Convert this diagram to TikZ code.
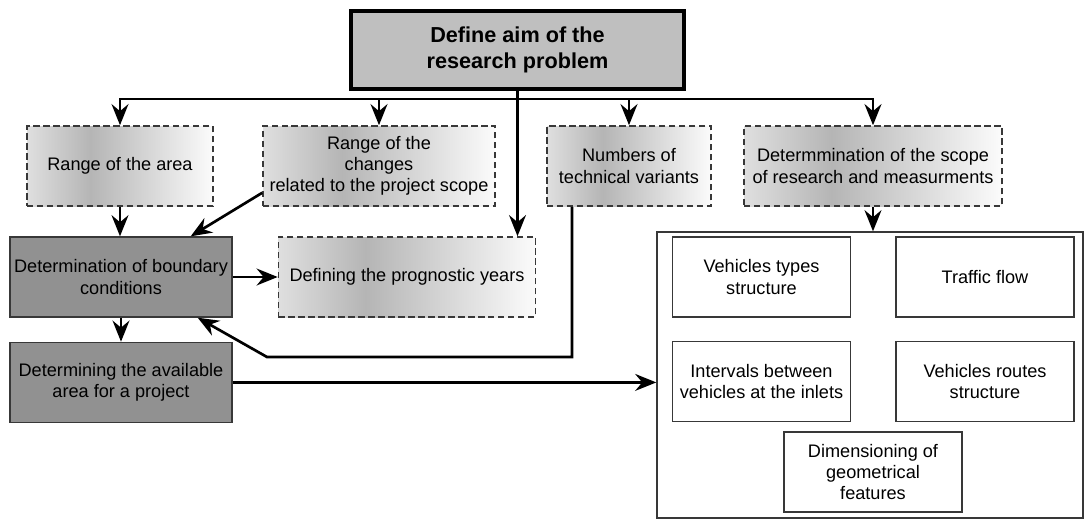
\documentclass[tikz,border=0pt]{standalone}
\usepackage{fontspec}
\setmainfont{Liberation Sans}
\usetikzlibrary{arrows.meta,positioning,calc}
\definecolor{darkfill}{gray}{0.57}
\definecolor{edgegray}{gray}{0.22}
\newcommand{\pxu}{0.025cm}
\pgfdeclarehorizontalshading{boxshade}{100bp}{color(0bp)=(gray!25); color(25bp)=(gray!25); color(42bp)=(gray!58); color(75bp)=(gray!3); color(100bp)=(gray!3)}
\tikzset{
  basebox/.style={rectangle,inner sep=0pt,align=center,font=\fontsize{12.9}{15}\selectfont},
  aimbox/.style={basebox,draw=black,line width=2.8pt,fill=gray!50,font=\bfseries\fontsize{15.4}{18.5}\selectfont,minimum width=333*\pxu,minimum height=78*\pxu},
  dashbox/.style={basebox,draw=edgegray,line width=1.1pt,dash pattern=on 4.5pt off 2.6pt,shade,shading=boxshade,minimum height=80*\pxu},
  darkbox/.style={basebox,draw=edgegray,line width=1pt,fill=darkfill,minimum width=222*\pxu,minimum height=80*\pxu},
  itembox/.style={basebox,draw=edgegray,line width=1.1pt,fill=white,minimum width=178*\pxu,minimum height=80*\pxu},
  flowline/.style={-{Stealth[length=15pt,width=12pt,inset=5pt]},line width=1.9pt}
}

\begin{document}
\begin{tikzpicture}[x=\pxu,y=-\pxu]
\useasboundingbox (0,0) rectangle (1085,521);

\node[aimbox] (aim) at (517.5,50) {Define aim of the\\research problem};
\coordinate (bus) at (517.5,99);

\node[dashbox,minimum width=186*\pxu] (area) at (120,166) {Range of the area};
\node[dashbox,minimum width=232*\pxu] (changes) at (379,166) {Range of the\\changes\\related to the project scope};
\node[dashbox,minimum width=164*\pxu] (variants) at (629,166) {Numbers of\\technical variants};
\node[dashbox,minimum width=258*\pxu] (scope) at (873,166) {Determmination of the scope\\of research and measurments};

\node[darkbox] (boundary) at (121,277) {Determination of boundary\\conditions};
\node[darkbox,below=0.6cm of boundary] (available) {Determining the available\\area for a project};
\node[dashbox,minimum width=257*\pxu,right=1.125cm of boundary] (years) {Defining the prognostic years};

\node[draw=edgegray,line width=1pt,minimum width=426*\pxu,minimum height=286*\pxu] (measures) at (870,375) {};
\node[itembox] (vtypes) at (761.5,277) {Vehicles types\\structure};
\node[itembox] (traffic) at (985,277) {Traffic flow};
\node[itembox,below=0.575cm of vtypes] (intervals) {Intervals between\\vehicles at the inlets};
\node[itembox,below=0.575cm of traffic] (routes) {Vehicles routes\\structure};
\node[itembox] (dims) at (873,472) {Dimensioning of\\geometrical\\features};

\coordinate (bend) at (267,357);

\draw[flowline] (aim) -- (aim.south |- years.north);
\draw[flowline] (bus) -| (area);
\draw[flowline] (bus) -| (changes);
\draw[flowline] (bus) -| (variants);
\draw[flowline] (bus) -| (scope);

\draw[flowline] (area) -- (area.south |- boundary.north);
\draw[flowline] ([yshift=14*\pxu]changes.south west) -- ([xshift=-42*\pxu]boundary.north east);
\draw[flowline] (boundary) -- (years);
\draw[flowline] (boundary) -- (available);
\draw[flowline] ([xshift=-57*\pxu]variants.south) |- (bend) -- ([xshift=-35*\pxu]boundary.south east);
\draw[flowline] (available) -- (available -| measures.west);
\draw[flowline] (scope) -- (scope |- measures.north);

\end{tikzpicture}
\end{document}
